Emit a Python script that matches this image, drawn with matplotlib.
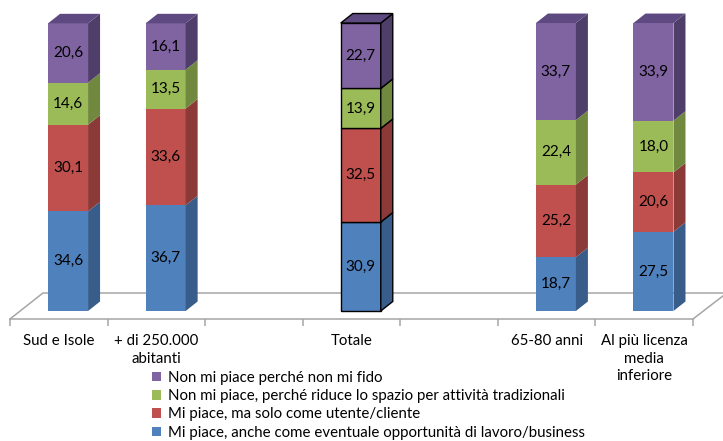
import numpy as np
import matplotlib
matplotlib.use('Agg')
import matplotlib.pyplot as plt
from matplotlib.patches import Polygon, Patch

plt.rcParams['font.family'] = ['Lato', 'DejaVu Sans']

# data (blank categories are empty slots in the original chart)
categories = ['Sud e Isole', '+ di 250.000\nabitanti', '', 'Totale', '',
              '65-80 anni', 'Al più licenza\nmedia\ninferiore']
nan = np.nan
blue = [34.6, 36.7, nan, 30.9, nan, 18.7, 27.5]
red = [30.1, 33.6, nan, 32.5, nan, 25.2, 20.6]
green = [14.6, 13.5, nan, 13.9, nan, 22.4, 18.0]
purple = [20.6, 16.1, nan, 22.7, nan, 33.7, 33.9]
series_names = ['Mi piace, anche come eventuale opportunità di lavoro/business',
                'Mi piace, ma solo come utente/cliente',
                'Non mi piace, perché riduce lo spazio per attività tradizionali',
                'Non mi piace perché non mi fido']
highlight = 'Totale'

front_col = ['#4F81BD', '#C0504D', '#9BBB59', '#8064A2']
side_col = ['#385D8A', '#8C3A38', '#71893F', '#4F3D6A']
top_col = ['#3F6897', '#9A403D', '#7E9A48', '#5E4A80']

W, H = 723, 441
fig = plt.figure(figsize=(W / 100, H / 100), dpi=100)
ax = fig.add_axes([10 / W, (H - 319) / H, 683 / W, 319 / H])
ax.set_xlim(-0.5, 6.5)
ax.set_ylim(-2.78, 108.0)

off = 0.095      # shift of the front face
bw = 0.41        # bar width
dx, dy = 0.123, 3.3   # depth of the 3d effect

# floor
grey = '#A6A6A6'
fx = [-0.5, -0.162, 6.846, 6.5]
fy = [-2.78, 6.25, 6.25, -2.78]
ax.plot(fx, fy, color=grey, lw=1.1, clip_on=False, zorder=1)

series = [blue, red, green, purple]
x = np.arange(len(categories))
for i in x:
    if np.isnan(blue[i]):
        continue
    ec = 'black' if categories[i] == highlight else 'none'
    lw = 1.0 if categories[i] == highlight else 0
    xc = i + off
    x0, x1 = xc - bw / 2, xc + bw / 2
    base = 0
    for k, s in enumerate(series):
        v = s[i]
        ax.bar(xc, v, bw, bottom=base, color=front_col[k], edgecolor=ec,
               linewidth=lw, zorder=3)
        side = Polygon([(x1, base), (x1 + dx, base + dy), (x1 + dx, base + v + dy),
                        (x1, base + v)], closed=True, facecolor=side_col[k],
                       edgecolor=ec, linewidth=lw, zorder=3)
        ax.add_patch(side)
        ax.text(xc, base + v / 2, f'{v:.1f}'.replace('.', ','), ha='center',
                va='center', fontsize=11, color='black', zorder=5)
        base += v
    top = Polygon([(x0, base), (x0 + dx, base + dy), (x1 + dx, base + dy), (x1, base)],
                  closed=True, facecolor=top_col[3], edgecolor=ec, linewidth=lw, zorder=3)
    ax.add_patch(top)

for sp in ['top', 'right', 'left']:
    ax.spines[sp].set_visible(False)
ax.spines['bottom'].set_color(grey)
ax.spines['bottom'].set_linewidth(1.1)
ax.set_yticks([])
ax.set_xticks(x)
ax.set_xticklabels(categories, fontsize=10.8, linespacing=1.3)
ax.set_xticks(np.arange(-0.5, 7, 1), minor=True)
ax.tick_params(axis='x', which='major', length=0, pad=11)
ax.tick_params(axis='x', which='minor', length=5, color=grey, width=1.1)

handles = [Patch(facecolor=front_col[k], label=series_names[k]) for k in range(4)][::-1]
fig.legend(handles=handles, loc='upper left', bbox_to_anchor=(152 / W, 1 - 371 / H),
           frameon=False, fontsize=10.8, handlelength=0.6, handleheight=0.6,
           handletextpad=0.45, labelspacing=0.28, borderpad=0, borderaxespad=0)

fig.savefig('out.png', dpi=100)
